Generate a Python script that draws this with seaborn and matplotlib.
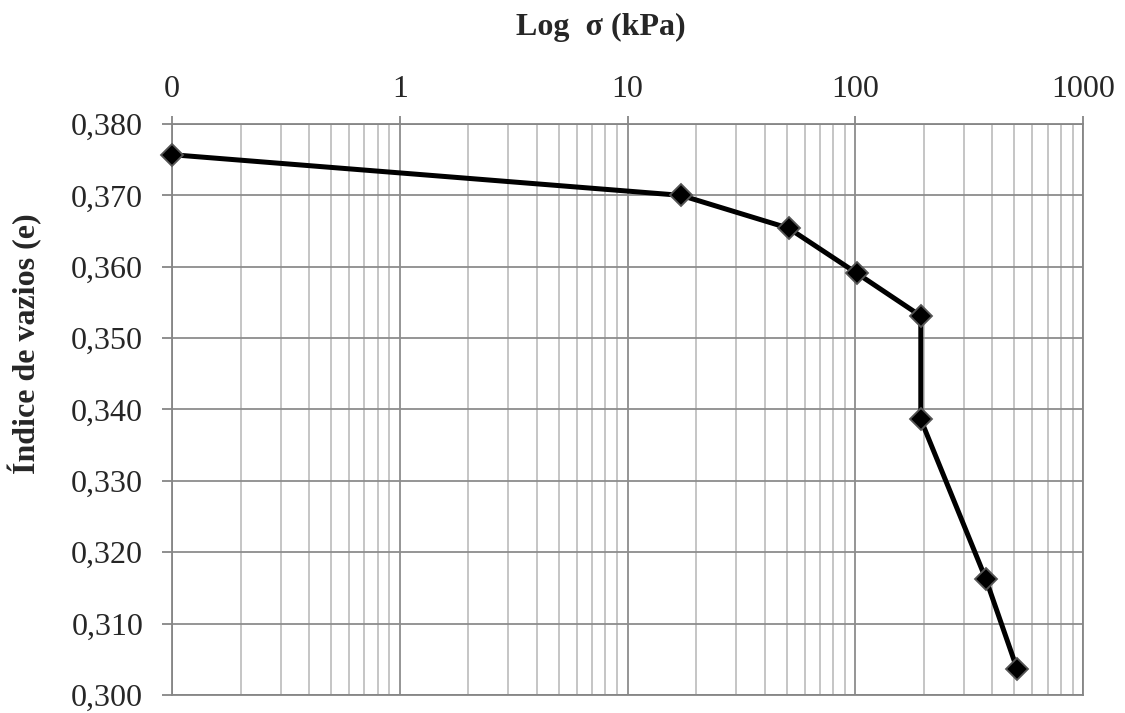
import matplotlib
matplotlib.use("Agg")
import matplotlib.pyplot as plt
import matplotlib.ticker as mticker
import seaborn as sns
import pandas as pd
import numpy as np

# Data
tensao_kpa = [0.1, 17.2, 51.0, 101.5, 194.0, 194.0, 375.0, 513.0]
indice_vazios = [0.3757, 0.3700, 0.3654, 0.3591, 0.3531, 0.3386, 0.3162, 0.3037]
x_tick_values = [0.1, 1, 10, 100, 1000]
x_tick_labels = ["0", "1", "10", "100", "1000"]
y_tick_values = [0.300, 0.310, 0.320, 0.330, 0.340, 0.350, 0.360, 0.370, 0.380]

df = pd.DataFrame({"sigma": tensao_kpa, "e": indice_vazios})

sns.set_theme(style="white")
plt.rcParams['font.family'] = ['Liberation Serif', 'DejaVu Serif']

fig = plt.figure(figsize=(11.25, 7.13), dpi=100)
ax = fig.add_axes([172/1125, 1 - 695/713, (1083-172)/1125, (695-124)/713])

sns.lineplot(data=df, x="sigma", y="e", sort=False, estimator=None, ax=ax,
             color="black", linewidth=3.6, marker="D", markersize=11,
             markerfacecolor="black", markeredgecolor="#555555", markeredgewidth=1.3,
             zorder=5, clip_on=False)

ax.set_xscale("log")
ax.set_xlim(0.1, 1000)
ax.set_ylim(0.300, 0.380)

ax.xaxis.set_major_locator(mticker.FixedLocator(x_tick_values))
ax.xaxis.set_major_formatter(mticker.FixedFormatter(x_tick_labels))
ax.xaxis.set_minor_locator(mticker.LogLocator(base=10, subs=np.arange(2, 10)))
ax.xaxis.set_minor_formatter(mticker.NullFormatter())
ax.set_yticks(y_tick_values)
ax.yaxis.set_major_formatter(mticker.FuncFormatter(lambda v, p: f"{v:.3f}".replace(".", ",")))

ax.xaxis.tick_top()
ax.tick_params(axis="x", which="major", top=True, bottom=False, direction="out",
               length=6, width=1.3, color="#868686", labelsize=23, pad=8.5)
ax.tick_params(axis="x", which="minor", top=False, bottom=False)
ax.tick_params(axis="y", which="major", left=True, direction="out", length=7.2,
               width=1.3, color="#868686", labelsize=23, pad=13.5)

ax.grid(True, which="major", axis="both", color="#8c8c8c", linewidth=1.3)
ax.grid(True, which="minor", axis="x", color="#c0c0c0", linewidth=1.3)
ax.set_axisbelow(True)

for s in ax.spines.values():
    s.set_color("#868686")
    s.set_linewidth(1.3)

fig.text(601/1125, 1 - 35/713, "Log  σ (kPa)", fontsize=23, fontweight="bold",
         ha="center", va="baseline")
ax.set_xlabel("")
ax.set_ylabel("Índice de vazios (e)", fontsize=23, fontweight="bold")
ax.yaxis.set_label_coords(-0.143, 0.615)

fig.savefig("out.png", dpi=100)
